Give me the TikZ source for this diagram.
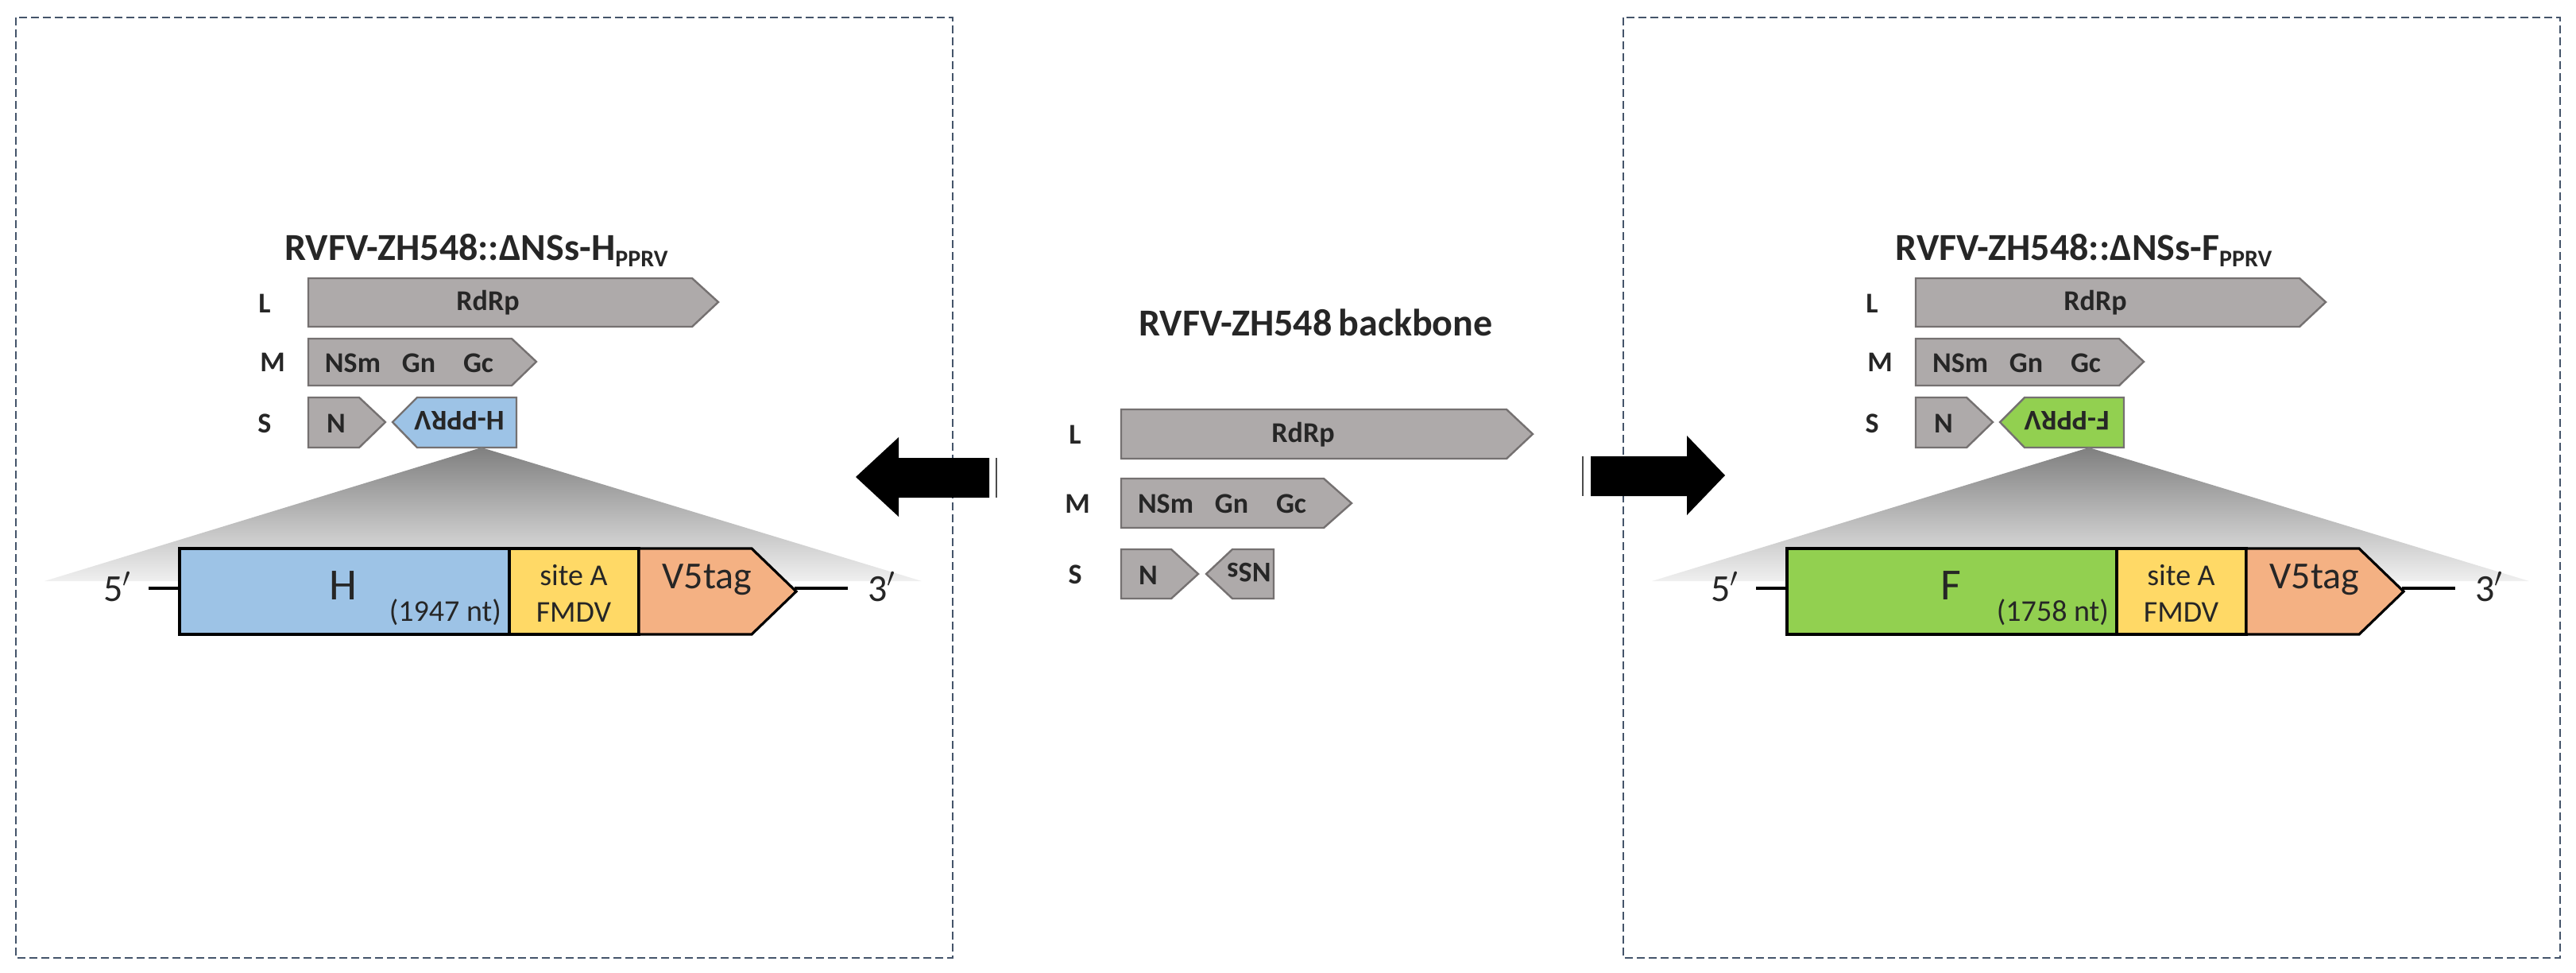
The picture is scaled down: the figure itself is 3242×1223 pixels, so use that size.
\documentclass[tikz,border=0pt]{standalone}
\usepackage{fontspec}
\setmainfont{Carlito}
\begin{document}
\begin{tikzpicture}[x=0.5pt,y=-0.5pt,
  seg/.style={fill=segfill,draw=segdraw,line width=1.2pt},
  lbl/.style={font=\fontsize{18}{20}\selectfont\bfseries,text=black!85},
  ttl/.style={font=\fontsize{24}{26}\selectfont\bfseries,text=black!85},
  box/.style={draw=black,line width=1.6pt},
  big/.style={font=\fontsize{24}{26}\selectfont,text=black!85},
  small/.style={font=\fontsize{19}{21}\selectfont,text=black!85},
  frame/.style={draw=framec,line width=1.2pt,dash pattern=on 5pt off 2.5pt},
  bigarrow/.style={fill=black}]
\definecolor{segfill}{HTML}{AEAAAA}
\definecolor{segdraw}{HTML}{757171}
\definecolor{framec}{HTML}{44546A}
\definecolor{hblue}{HTML}{9DC3E6}
\definecolor{fgreen}{HTML}{92D050}
\definecolor{siteY}{HTML}{FFD966}
\definecolor{v5}{HTML}{F4B183}
\useasboundingbox (0,0) rectangle (3242,1223);

\newcommand\mypanel[5]{%
\begin{scope}[xshift=#2*0.5pt]
  \draw[frame] (20,22) rectangle (1199,1205);
  \node[ttl] (#1title) at (600,315) {RVFV-ZH548::ΔNSs-#4\textsubscript{\fontsize{15}{15}\selectfont PPRV}};
  \node[lbl] (#1Llab) at (333,382) {L};
  \node[lbl] (#1Mlab) at (343,456) {M};
  \node[lbl] (#1Slab) at (333,533) {S};
  \draw[seg] (388,350) -- (871,350) -- (904,380) -- (871,411) -- (388,411) -- cycle;
  \node[lbl] (#1rdrp) at (614,381) {RdRp};
  \draw[seg] (388,426) -- (644,426) -- (675,455) -- (644,485) -- (388,485) -- cycle;
  \node[lbl] (#1nsm) at (444,457) {NSm};
  \node[lbl] (#1gn) at (527,457) {Gn};
  \node[lbl] (#1gc) at (602,457) {Gc};
  \draw[seg] (388,500) -- (452,500) -- (485,531) -- (452,563) -- (388,563) -- cycle;
  \node[lbl] (#1n) at (423,533) {N};
  \draw[fill=#3,draw=segdraw,line width=1.2pt] (650,500) -- (525,500) -- (494,531) -- (525,563) -- (650,563) -- cycle;
  \node[lbl,rotate=180] (#1ins) at (578,529) {#4-PPRV};
  \coordinate (#1apex) at (606,563);
  \shade[top color=black!50,bottom color=black!6] (#1apex) -- (1160,731) -- (56,731) -- cycle;
  \draw[line width=2.2pt] (187,740) -- (226,740);
  \draw[line width=2.2pt] (1000,740) -- (1067,740);
  \draw[box,fill=#3] (226,690) rectangle (641,798);
  \draw[box,fill=siteY] (641,690) rectangle (804,798);
  \draw[box,fill=v5] (804,690) -- (946,690) -- (1002,744) -- (946,798) -- (804,798) -- cycle;
  \node[font=\fontsize{28}{30}\selectfont,text=black!85] (#1gene) at (432,737) {#4};
  \node[small,anchor=east] (#1nt) at (638,770) {#5};
  \node[small] (#1siteA) at (722,724) {site A};
  \node[small] (#1fmdv) at (722,770) {FMDV};
  \node[big] (#1v5) at (890,729) {V5tag};
  \node[big] (#1five) at (148,738) {5$'$};
  \node[big] (#1three) at (1110,738) {3$'$};
\end{scope}}

\mypanel{a}{0}{hblue}{H}{(1947 nt)}
\mypanel{b}{2023}{fgreen}{F}{(1758 nt)}

% middle backbone
\node[ttl] (mtitle) at (1656,406) {RVFV-ZH548\,backbone};
\node[lbl] (mL) at (1353,547) {L};
\node[lbl] (mM) at (1356,634) {M};
\node[lbl] (mS) at (1353,723) {S};
\draw[seg] (1411,515) -- (1896,515) -- (1929,546) -- (1896,577) -- (1411,577) -- cycle;
\node[lbl] (mrdrp) at (1640,547) {RdRp};
\draw[seg] (1411,602) -- (1666,602) -- (1701,633) -- (1666,664) -- (1411,664) -- cycle;
\node[lbl] (mnsm) at (1467,634) {NSm};
\node[lbl] (mgn) at (1550,634) {Gn};
\node[lbl] (mgc) at (1625,634) {Gc};
\draw[seg] (1411,691) -- (1474,691) -- (1508,722) -- (1474,753) -- (1411,753) -- cycle;
\node[lbl] (mn) at (1445,724) {N};
\draw[seg] (1603,691) -- (1551,691) -- (1518,722) -- (1551,753) -- (1603,753) -- cycle;
\node[lbl,rotate=180] (mnss) at (1572,720) {NSs};

% big arrows
\fill[bigarrow] (1077,600) -- (1131,550) -- (1131,576) -- (1245,576) -- (1245,626) -- (1131,626) -- (1131,650) -- cycle;
\draw[black!70,line width=1pt] (1254,576) -- (1254,626);
\fill[bigarrow] (2171,598) -- (2123,548) -- (2123,574) -- (2002,574) -- (2002,624) -- (2123,624) -- (2123,648) -- cycle;
\draw[black!70,line width=1pt] (1992,574) -- (1992,624);
\end{tikzpicture}
\end{document}
